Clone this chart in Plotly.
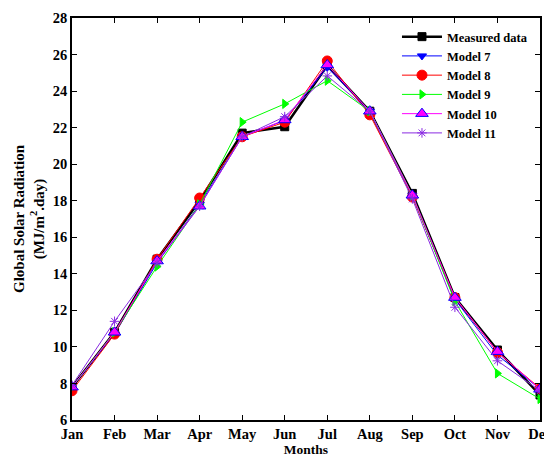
import plotly.graph_objects as go

months = ["Jan", "Feb", "Mar", "Apr", "May", "Jun", "Jul", "Aug", "Sep", "Oct", "Nov", "Dec"]
measured = [7.8, 10.8, 14.8, 18.0, 21.7, 22.05, 25.4, 22.9, 18.4, 12.7, 9.83, 7.37]
model7 = [7.8, 10.7, 14.6, 17.8, 21.5, 22.4, 25.3, 22.9, 18.3, 12.6, 9.55, 7.7]
model8 = [7.6, 10.7, 14.8, 18.15, 21.5, 22.3, 25.65, 22.7, 18.2, 12.7, 9.7, 7.73]
model9 = [7.8, 10.8, 14.4, 17.8, 22.3, 23.3, 24.57, 22.9, 18.3, 12.5, 8.55, 7.15]
model10 = [7.8, 10.8, 14.7, 17.7, 21.5, 22.42, 25.43, 22.9, 18.3, 12.7, 9.74, 7.68]
model11 = [7.9, 11.4, 14.6, 17.7, 21.5, 22.6, 24.83, 22.9, 18.1, 12.17, 9.24, 7.6]
yticks = [6, 8, 10, 12, 14, 16, 18, 20, 22, 24, 26, 28]

FONT = "Liberation Serif"

series = [
    ("Measured data", measured, "black", 2.5, "square", 8, "black", "black"),
    ("Model 7", model7, "blue", 1, "triangle-down", 8, "blue", "blue"),
    ("Model 8", model8, "red", 1, "circle", 10, "red", "red"),
    ("Model 9", model9, "#00ff00", 1, "triangle-right", 8, "#00ff00", "#00ff00"),
    ("Model 10", model10, "#ff00ff", 1, "triangle-up", 11, "#ff00ff", "blue"),
    ("Model 11", model11, "#8a2be2", 1, "asterisk-open", 8, "#8a2be2", "#8a2be2"),
]

fig = go.Figure()
for name, vals, col, lw, sym, ms, mfill, medge in series:
    fig.add_trace(go.Scatter(
        x=months, y=vals, name=name, mode="lines+markers",
        line=dict(color=col, width=lw),
        marker=dict(symbol=sym, size=ms, color=mfill,
                    line=dict(color=medge, width=1)),
    ))

axis_common = dict(
    showline=True, linecolor="black", linewidth=1.5, mirror="ticks",
    ticks="inside", ticklen=5, tickcolor="black", showgrid=False, zeroline=False,
    automargin=False,
    tickfont=dict(family=FONT, size=14.5, color="black", weight="bold"),
)

# The page body has an 8px default margin, so the figure is sized to fit the window.
fig.update_layout(
    width=544, height=449,
    margin=dict(l=64, r=12, t=10, b=37),
    paper_bgcolor="white", plot_bgcolor="white",
    font=dict(family=FONT, color="black"),
    xaxis=dict(**axis_common, range=[0, 11],
               title=dict(text="Months", font=dict(family=FONT, size=13.5, weight="bold"), standoff=0)),
    yaxis=dict(**axis_common, range=[6, 28], tickvals=yticks,
               title=dict(text="Global Solar Radiation<br>(MJ/m<sup>2</sup>.day)",
                          font=dict(family=FONT, size=15, weight="bold"), standoff=5)),
    legend=dict(x=0.985, y=0.99, xanchor="right", yanchor="top",
                bgcolor="rgba(255,255,255,0)", borderwidth=0,
                font=dict(family=FONT, size=12.5, color="black", weight="bold"),
                tracegroupgap=0, itemwidth=40),
    showlegend=True,
)

fig.write_html("out.html")
